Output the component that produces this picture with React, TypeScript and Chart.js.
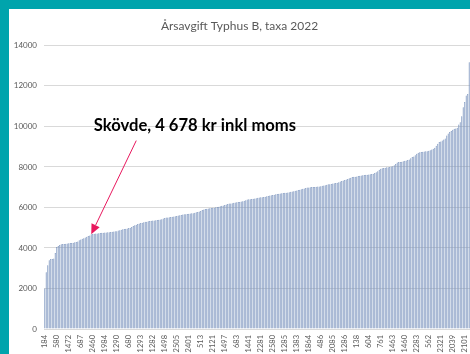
import React, { useEffect, useRef } from "react";
import { Chart, registerables } from "chart.js";

Chart.register(...registerables);

const TITLE = "Årsavgift Typhus B, taxa 2022";
const ANNOTATION_TEXT = "Skövde, 4 678 kr inkl moms";

// Every 8th bar carries a visible category label
const TICK_LABELS = [
  "184", "580", "1472", "687", "2460", "1984", "1290", "680", "1293", "1282",
  "1498", "2505", "2401", "513", "2121", "1497", "683", "1441", "2281", "2580",
  "1285", "1383", "1864", "486", "2085", "1286", "138", "604", "761", "1463",
  "1460", "2283", "562", "2321", "2039", "2101",
];
const LABEL_EVERY = 8;

// Annual fee per municipality, sorted (kr)
const FEES = [
  2000, 2800, 3150, 3400, 3450, 3460, 3480, 3750, 4050, 4100,
  4150, 4180, 4200, 4200, 4210, 4220, 4230, 4240, 4250, 4260,
  4280, 4300, 4320, 4380, 4420, 4450, 4480, 4520, 4560, 4590,
  4620, 4678, 4690, 4700, 4710, 4720, 4730, 4740, 4750, 4750,
  4760, 4760, 4770, 4780, 4790, 4800, 4810, 4820, 4830, 4860,
  4880, 4900, 4920, 4940, 4950, 4960, 4980, 5000, 5040, 5080,
  5120, 5150, 5180, 5210, 5230, 5250, 5270, 5290, 5300, 5320,
  5335, 5340, 5350, 5360, 5370, 5380, 5390, 5400, 5420, 5450,
  5480, 5500, 5510, 5520, 5530, 5540, 5550, 5560, 5580, 5600,
  5615, 5630, 5650, 5660, 5670, 5680, 5690, 5700, 5710, 5720,
  5740, 5760, 5780, 5800, 5830, 5870, 5900, 5920, 5940, 5950,
  5960, 5970, 5980, 5990, 6010, 6025, 6040, 6060, 6080, 6100,
  6120, 6150, 6170, 6190, 6200, 6210, 6230, 6240, 6255, 6265,
  6275, 6290, 6310, 6330, 6360, 6390, 6400, 6410, 6420, 6430,
  6440, 6460, 6475, 6490, 6500, 6510, 6520, 6530, 6550, 6570,
  6590, 6600, 6610, 6630, 6650, 6660, 6675, 6690, 6700, 6710,
  6720, 6730, 6740, 6750, 6770, 6790, 6800, 6820, 6840, 6860,
  6880, 6900, 6920, 6940, 6960, 6980, 6990, 7000, 7005, 7010,
  7015, 7020, 7030, 7040, 7050, 7070, 7090, 7100, 7120, 7140,
  7150, 7160, 7180, 7200, 7210, 7225, 7250, 7280, 7300, 7330,
  7360, 7380, 7410, 7440, 7470, 7500, 7510, 7520, 7530, 7550,
  7560, 7580, 7590, 7600, 7610, 7620, 7630, 7640, 7650, 7670,
  7700, 7740, 7790, 7860, 7910, 7930, 7950, 7960, 7980, 7990,
  8000, 8020, 8030, 8080, 8150, 8220, 8240, 8250, 8260, 8280,
  8300, 8320, 8340, 8370, 8430, 8490, 8520, 8580, 8650, 8700,
  8720, 8740, 8750, 8760, 8770, 8780, 8800, 8830, 8860, 8900,
  8950, 9050, 9150, 9230, 9260, 9300, 9350, 9400, 9550, 9650,
  9720, 9780, 9830, 9880, 9900, 9930, 10100, 10210, 10500, 10950,
  11200, 11530, 11600, 13170,
];

const Y_MIN = 0;
const Y_MAX = 14000;
const Y_STEP = 2000;

// Annotation anchors (in data units)
const SKOVDE_INDEX = 31;
const SKOVDE_VALUE = 4678;
const ARROW_FROM_INDEX = 61;
const ARROW_FROM_VALUE = 9300;
const TEXT_INDEX = 32.7;
const TEXT_VALUE = 10050;

const CATEGORIES = FEES.map((_, i) =>
  i % LABEL_EVERY === 0 ? TICK_LABELS[i / LABEL_EVERY] ?? "" : ""
);

const annotationPlugin = {
  id: "skovdeAnnotation",
  afterDraw(chart: any) {
    const { ctx, scales } = chart;
    const xs = scales.x;
    const ys = scales.y;
    const bw = xs.getPixelForValue(1) - xs.getPixelForValue(0);
    const xAt = (idx: number) => xs.getPixelForValue(0) + idx * bw;

    const tipX = xAt(SKOVDE_INDEX);
    const tipY = ys.getPixelForValue(SKOVDE_VALUE);
    const fromX = xAt(ARROW_FROM_INDEX);
    const fromY = ys.getPixelForValue(ARROW_FROM_VALUE);

    ctx.save();
    const color = "#e8185e";
    const ang = Math.atan2(tipY - fromY, tipX - fromX);
    const headLen = 10;
    const headW = 4.5;
    const baseX = tipX - headLen * Math.cos(ang);
    const baseY = tipY - headLen * Math.sin(ang);
    ctx.strokeStyle = color;
    ctx.lineWidth = 1;
    ctx.beginPath();
    ctx.moveTo(fromX, fromY);
    ctx.lineTo(baseX, baseY);
    ctx.stroke();
    ctx.fillStyle = color;
    ctx.beginPath();
    ctx.moveTo(tipX, tipY);
    ctx.lineTo(baseX + headW * Math.sin(ang), baseY - headW * Math.cos(ang));
    ctx.lineTo(baseX - headW * Math.sin(ang), baseY + headW * Math.cos(ang));
    ctx.closePath();
    ctx.fill();

    ctx.fillStyle = "#000000";
    ctx.font = "bold 16.6px Lato";
    ctx.textAlign = "left";
    ctx.textBaseline = "middle";
    ctx.fillText(ANNOTATION_TEXT, xAt(TEXT_INDEX), ys.getPixelForValue(TEXT_VALUE));
    ctx.restore();
  },
};

export default function App() {
  const canvasRef = useRef<HTMLCanvasElement | null>(null);

  useEffect(() => {
    const canvas = canvasRef.current;
    if (!canvas) return;
    const chart = new Chart(canvas, {
      type: "bar",
      data: {
        labels: CATEGORIES,
        datasets: [
          {
            data: FEES,
            backgroundColor: "rgba(170,189,215,0.9)",
            borderColor: "rgba(100,128,178,1)",
            borderWidth: 0.5,
            barPercentage: 0.85,
            categoryPercentage: 1,
          },
        ],
      },
      options: {
        responsive: false,
        animation: false,
        layout: { padding: { left: 0, right: 0, top: 0, bottom: 0 } },
        plugins: {
          legend: { display: false },
          tooltip: { enabled: false },
          title: {
            display: true,
            text: TITLE,
            color: "#595959",
            font: { family: "Lato", size: 12, weight: "normal" },
            padding: { top: 10, bottom: 12 },
          },
        },
        scales: {
          x: {
            grid: { display: false, drawTicks: false },
            border: { display: false },
            ticks: {
              autoSkip: false,
              minRotation: 90,
              maxRotation: 90,
              color: "#595959",
              font: { family: "Lato", size: 7.5 },
              padding: 6,
              callback: (_v: any, i: number) => CATEGORIES[i],
            },
            afterFit: (axis: any) => {
              axis.height = 25;
              axis.paddingRight = 0;
              axis.paddingLeft = 0;
            },
          },
          y: {
            min: Y_MIN,
            max: Y_MAX,
            grid: { color: "#d9d9d9", drawTicks: false },
            border: { display: false },
            ticks: {
              stepSize: Y_STEP,
              color: "#595959",
              font: { family: "Lato", size: 8 },
              padding: 7,
              callback: (v: any) => String(v),
            },
            afterFit: (axis: any) => {
              axis.width = 35;
            },
          },
        },
      },
      plugins: [annotationPlugin],
    });
    return () => chart.destroy();
  }, []);

  return (
    <div style={{ position: "fixed", inset: 0, background: "#00a4ac" }}>
      <div
        style={{
          position: "absolute",
          left: 9,
          top: 9,
          right: 0,
          bottom: 0,
          background: "#ffffff",
        }}
      >
        <canvas ref={canvasRef} width={461} height={345} style={{ display: "block" }} />
      </div>
    </div>
  );
}
